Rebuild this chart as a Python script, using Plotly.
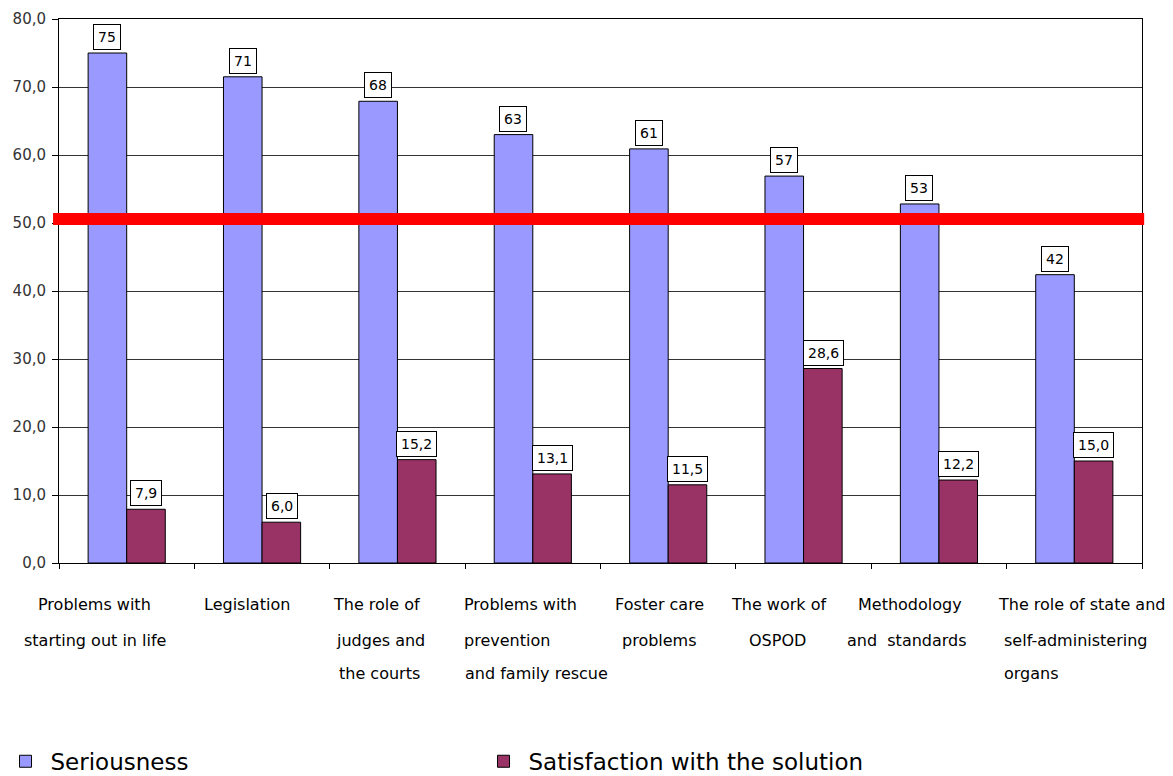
import plotly.graph_objects as go

categories = [
    "Problems with starting out in life",
    "Legislation",
    "The role of judges and the courts",
    "Problems with prevention and family rescue",
    "Foster care problems",
    "The work of OSPOD",
    "Methodology and standards",
    "The role of state and self-administering organs",
]
label_lines = [
    ["Problems with", "starting out in life"],
    ["Legislation"],
    ["The role of", "judges and", "the courts"],
    ["Problems with", "prevention", "and family rescue"],
    ["Foster care", "problems"],
    ["The work of", "OSPOD"],
    ["Methodology", "and\u00a0 standards"],
    ["The role of state and", "self-administering", "organs"],
]
seriousness = [75.0, 71.5, 67.9, 63.0, 60.9, 56.9, 52.8, 42.4]
seriousness_labels = ["75", "71", "68", "63", "61", "57", "53", "42"]
satisfaction = [7.9, 6.0, 15.2, 13.1, 11.5, 28.6, 12.2, 15.0]
satisfaction_labels = ["7,9", "6,0", "15,2", "13,1", "11,5", "28,6", "12,2", "15,0"]
threshold = 50.6
y_ticks = [0, 10, 20, 30, 40, 50, 60, 70, 80]

BLUE = "#9999FF"
MAROON = "#993366"
FONT = "DejaVu Sans"

fig = go.Figure()
fig.add_trace(go.Bar(x=categories, y=seriousness, name="Seriousness",
                     marker=dict(color=BLUE, line=dict(color="black", width=1))))
fig.add_trace(go.Bar(x=categories, y=satisfaction, name="Satisfaction with the solution",
                     marker=dict(color=MAROON, line=dict(color="black", width=1))))

# data labels in boxes
for cat, v, t in zip(categories, seriousness, seriousness_labels):
    fig.add_annotation(x=cat, y=v, text=t, showarrow=False, xshift=-19.5, yshift=3,
                       yanchor="bottom", bgcolor="white", bordercolor="black",
                       borderwidth=1, borderpad=4, font=dict(family=FONT, size=14, color="black"))
for cat, v, t in zip(categories, satisfaction, satisfaction_labels):
    fig.add_annotation(x=cat, y=v, text=t, showarrow=False, xshift=19.5, yshift=3,
                       yanchor="bottom", bgcolor="white", bordercolor="black",
                       borderwidth=1, borderpad=4, font=dict(family=FONT, size=14, color="black"))

# category labels
plot_top, plot_bottom = 19, 563
line_px = [604, 640, 673]
label_layout = [
    ("center", [-32, -32]),
    ("center", [-15]),
    ("center", [-21, -17, -18]),
    ("left", [-71, -71, -70]),
    ("center", [-9, -9]),
    ("center", [-25, -26]),
    ("center", [-29, -32]),
    ("left", [-78, -72, -72]),
]
for cat, lines, (anchor, shifts) in zip(categories, label_lines, label_layout):
    for i, line in enumerate(lines):
        fig.add_annotation(x=cat, xref="x", yref="paper",
                           y=(plot_bottom - line_px[i]) / (plot_bottom - plot_top),
                           text=line, showarrow=False, xanchor=anchor, yanchor="middle",
                           xshift=shifts[i], font=dict(family=FONT, size=16, color="black"))

fig.add_shape(type="line", xref="paper", yref="y", x0=-0.0055, x1=1.002,
              y0=threshold, y1=threshold, line=dict(color="#FF0000", width=12), layer="above")

fig.update_layout(
    width=1173, height=776,
    margin=dict(l=59, r=31, t=19, b=213, autoexpand=False),
    plot_bgcolor="white", paper_bgcolor="white",
    separators=",.",
    barmode="group", bargap=0.43, bargroupgap=0,
    font=dict(family=FONT, color="black"),
    showlegend=True,
    legend=dict(orientation="h", x=-0.054, y=-0.325, xanchor="left", yanchor="top",
                font=dict(family=FONT, size=23, color="black"),
                itemwidth=40,
                entrywidth=423, entrywidthmode="pixels", traceorder="normal",
                bgcolor="rgba(0,0,0,0)"),
    xaxis=dict(showticklabels=False, ticks="outside", tickson="boundaries", ticklen=5,
               tickcolor="black", showline=True, linecolor="black", linewidth=1,
               mirror=True, showgrid=False, range=[-0.5, 7.5]),
    yaxis=dict(range=[0, 80], tickvals=y_ticks, tickformat=".1f", ticks="outside",
               ticklen=6, tickcolor="black", showline=True, linecolor="black", linewidth=1,
               mirror=True, showgrid=True, gridcolor="#333333", gridwidth=1,
               ticklabelstandoff=3,
               tickfont=dict(family=FONT, size=15, color="#333333"), zeroline=False),
)

fig.write_html("out.html")
